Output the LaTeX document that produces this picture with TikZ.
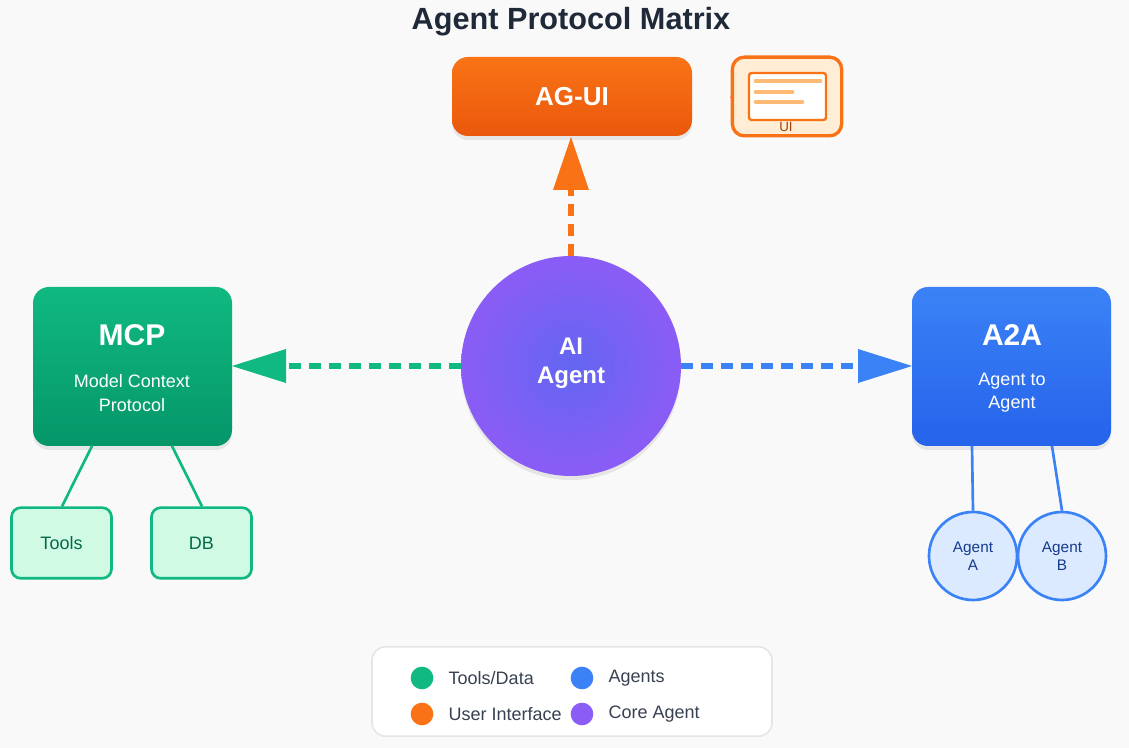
\documentclass[tikz,border=0pt]{standalone}
\usepackage{fontspec}
\setmainfont{Liberation Sans}
\usetikzlibrary{shadows}
\definecolor{bg}{HTML}{F9F9F9}
\definecolor{og1}{HTML}{F97316}\definecolor{og2}{HTML}{EA580C}
\definecolor{gr1}{HTML}{10B981}\definecolor{gr2}{HTML}{059669}
\definecolor{bl1}{HTML}{3B82F6}\definecolor{bl2}{HTML}{2563EB}
\definecolor{pu1}{HTML}{6366F1}\definecolor{pu2}{HTML}{8B5CF6}
\definecolor{ttl}{HTML}{1F2937}\definecolor{lg}{HTML}{374151}
\definecolor{grl}{HTML}{D1FAE5}\definecolor{bll}{HTML}{DBEAFE}
\definecolor{ogl}{HTML}{FFEDD5}\definecolor{ogm}{HTML}{FDBA74}
\newcommand{\fs}[1]{\fontsize{#1}{#1}\selectfont}
\tikzset{
 big/.style={rounded corners=12pt, drop shadow={opacity=0.15,shadow xshift=0pt,shadow yshift=-3pt}},
 leaf/.style={draw=gr1, fill=grl, line width=2pt, rounded corners=7pt, text=gr2!70!black, font=\fs{13.5}},
 ag/.style={circle, draw=bl1, fill=bll, line width=2pt, minimum size=66pt, inner sep=0pt, text=bl2!60!black, font=\fs{11.5}, align=center},
 dot/.style={circle, inner sep=0pt, minimum size=17pt},
 lt/.style={anchor=west, text=lg, font=\fs{13.5}},
 dsh/.style={line width=4pt, dash pattern=on 9pt off 6pt},
}
\begin{document}
\begin{tikzpicture}[x=0.75pt,y=-0.75pt]
\useasboundingbox (0,0) rectangle (1129,748);
\fill[bg] (0,0) rectangle (1129,748);
\node[text=ttl, font=\bfseries\fs{23}] (title) at (571,22) {Agent Protocol Matrix};
% AG-UI
\shade[big, top color=og1, bottom color=og2] (452,57) rectangle (692,136);
\node[text=white, font=\bfseries\fs{19.5}] (agui) at (572,97) {AG-UI};
\coordinate (aguiR) at (692,97);
\node[draw=og1, fill=ogl, line width=2.5pt, rounded corners=9pt, minimum width=82pt, minimum height=59pt] (ui) at (787,96.5) {};
\draw[og1, line width=2pt] (732,97) -- (ui.west);
\draw[og1, fill=white, line width=1.8pt, rounded corners=2pt] (749,73) rectangle (826,120);
\draw[ogm, line width=3.5pt, line cap=round] (756,81) -- (820,81) (756,92) -- (792,92) (756,102) -- (802,102);
\node[text=og2!70!black, font=\fs{10}] (uit) at (786,127) {UI};
% core
\shade[ball color=pu2, inner color=pu1, outer color=pu2, drop shadow={opacity=0.15,shadow xshift=0pt,shadow yshift=-3pt}] (571,366) circle (110);
\node[circle, minimum size=165pt] (ai) at (571,366) {};
\node[text=white, font=\bfseries\fs{18}, align=center] (ait) at (571,363) {AI\\[4pt]Agent};
% MCP
\shade[big, top color=gr1, bottom color=gr2] (33,287) rectangle (232,446);
\node[text=white, font=\bfseries\fs{22.5}] (mcp) at (132,335) {MCP};
\node[text=white, font=\fs{13.5}, align=center] (mcpt) at (132,393) {Model Context\\[4pt]Protocol};
\coordinate (mcpR) at (232,366);
% A2A
\shade[big, top color=bl1, bottom color=bl2] (912,287) rectangle (1111,446);
\node[text=white, font=\bfseries\fs{22.5}] (a2a) at (1012,335) {A2A};
\node[text=white, font=\fs{13.5}, align=center] (a2at) at (1012,393) {Agent to\\[4pt]Agent};
\coordinate (a2aL) at (912,366);
% dashed arrows
\coordinate (aiT) at (571,256); \coordinate (aiL) at (461,366); \coordinate (aiR) at (681,366);
\coordinate (upB) at (571,190); \coordinate (upT) at (571,137);
\draw[og1, dsh] (aiT) -- (upB);
\fill[og1] (upT) -- (589,190) -- (553,190) -- cycle;
\coordinate (lB) at (286,366);
\draw[gr1, dsh] (aiL) -- (lB);
\fill[gr1] (mcpR) -- (286,349) -- (286,383) -- cycle;
\coordinate (rB) at (858,366);
\draw[bl1, dsh] (aiR) -- (rB);
\fill[bl1] (a2aL) -- (858,349) -- (858,383) -- cycle;
% leaves
\node[leaf, minimum width=75pt, minimum height=53pt] (tools) at (61.5,543) {Tools};
\node[leaf, minimum width=75pt, minimum height=53pt] (db) at (201.5,543) {DB};
\coordinate (m1) at (92,446); \coordinate (m2) at (172,446);
\draw[gr1, line width=2pt] (m1) -- (tools.north -| 62,0) (m2) -- (db.north -| 202,0);
\node[ag] (aa) at (973,556) {Agent\\[2pt]A};
\node[ag] (ab) at (1062,556) {Agent\\[2pt]B};
\coordinate (b1) at (972,446); \coordinate (b2) at (1052,446);
\draw[bl1, line width=2pt] (b1) -- (aa.north) (b2) -- (ab.north);
% legend
\node[draw=black!10, fill=white, line width=1.2pt, rounded corners=10pt, minimum width=300pt, minimum height=67pt] (leg) at (572,691.5) {};
\node[dot, fill=gr1] (d1) at (422,678) {}; \node[lt] (l1) at (444,678) {Tools/Data};
\node[dot, fill=og1] (d2) at (422,714) {}; \node[lt] (l2) at (444,714) {User Interface};
\node[dot, fill=bl1] (d3) at (582,678) {}; \node[lt] (l3) at (604,678) {Agents};
\node[dot, fill=pu2] (d4) at (582,714) {}; \node[lt] (l4) at (604,714) {Core Agent};
\end{tikzpicture}
\end{document}
